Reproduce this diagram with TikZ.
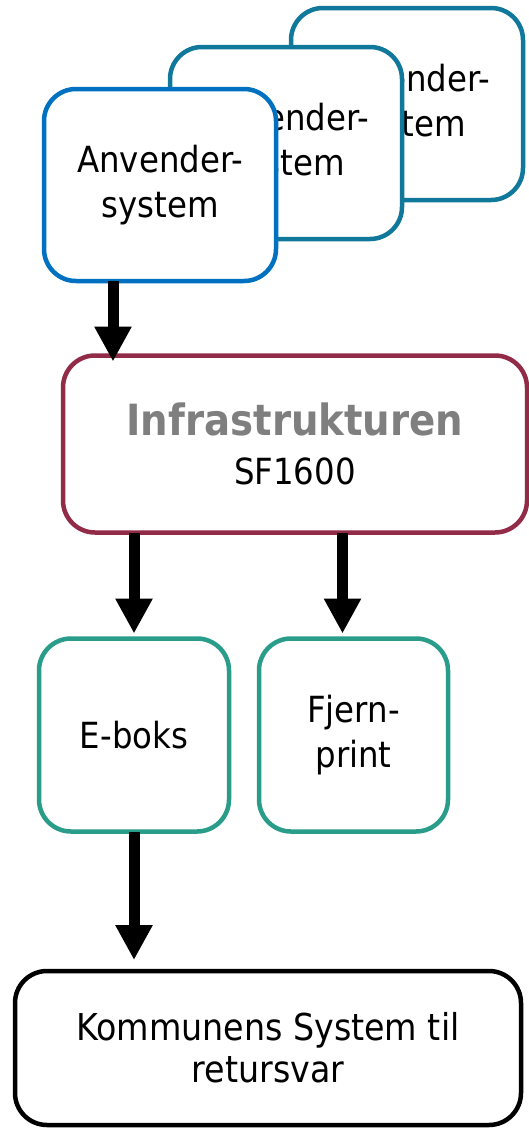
\documentclass[tikz,border=0pt]{standalone}
\usepackage{fontspec}
\setmainfont{DejaVu Sans Condensed}
\usetikzlibrary{arrows.meta}
\definecolor{frontblue}{HTML}{0070C0}
\definecolor{backteal}{HTML}{10789A}
\definecolor{infrared}{HTML}{922B48}
\definecolor{boxgreen}{HTML}{2A9D8A}
\definecolor{infragray}{HTML}{7F7F7F}
\begin{document}
\begin{tikzpicture}[x=1pt,y=-1pt,
  box/.style={draw,line width=4.5pt,fill=white,rounded corners=32pt,align=center,
    font=\fontsize{36}{45}\selectfont,inner sep=0pt,outer sep=0pt},
  sysbox/.style={box,minimum width=232pt,minimum height=192pt},
  bigarrow/.style={line width=11pt,-{Triangle[width=35pt,length=35pt]}}]
  \useasboundingbox (0,0) rectangle (529,1130);
  % the stacked user systems
  \node[sysbox,draw=backteal] (sys3) at (407,104) {Anvender-\\system};
  \node[sysbox,draw=backteal] (sys2) at (286,143) {Anvender-\\system};
  \node[sysbox,draw=frontblue] (sys1) at (160,185) {Anvender-\\system};
  \node[box,draw=infrared,minimum width=464pt,minimum height=177pt] (infra) at (295,444)
    {{\fontsize{43}{48}\selectfont\bfseries\color{infragray}Infrastrukturen}\\[4pt]SF1600};
  \node[box,draw=boxgreen,minimum width=190pt,minimum height=193pt] (eboks) at (134,735) {E-boks};
  \node[box,draw=boxgreen,minimum width=189pt,minimum height=193pt] (fjern) at (353.5,735) {Fjern-\\print};
  \node[box,draw=black,minimum width=506pt,minimum height=154pt,
    font=\fontsize{37}{42}\selectfont] (retur) at (268,1048) {Kommunens System til\\retursvar};
  % arrows
  \draw[bigarrow] ([xshift=-47pt]sys1.south) -- ([xshift=-47pt,yshift=-6pt]sys1.south |- infra.north);
  \draw[bigarrow] (infra.south -| eboks.north) -- ([yshift=5pt]eboks.north);
  \draw[bigarrow] ([xshift=-11pt]infra.south -| fjern.north) -- ([xshift=-11pt,yshift=5pt]fjern.north);
  \draw[bigarrow] (eboks.south) -- ([yshift=11pt]eboks.south |- retur.north);
\end{tikzpicture}
\end{document}
